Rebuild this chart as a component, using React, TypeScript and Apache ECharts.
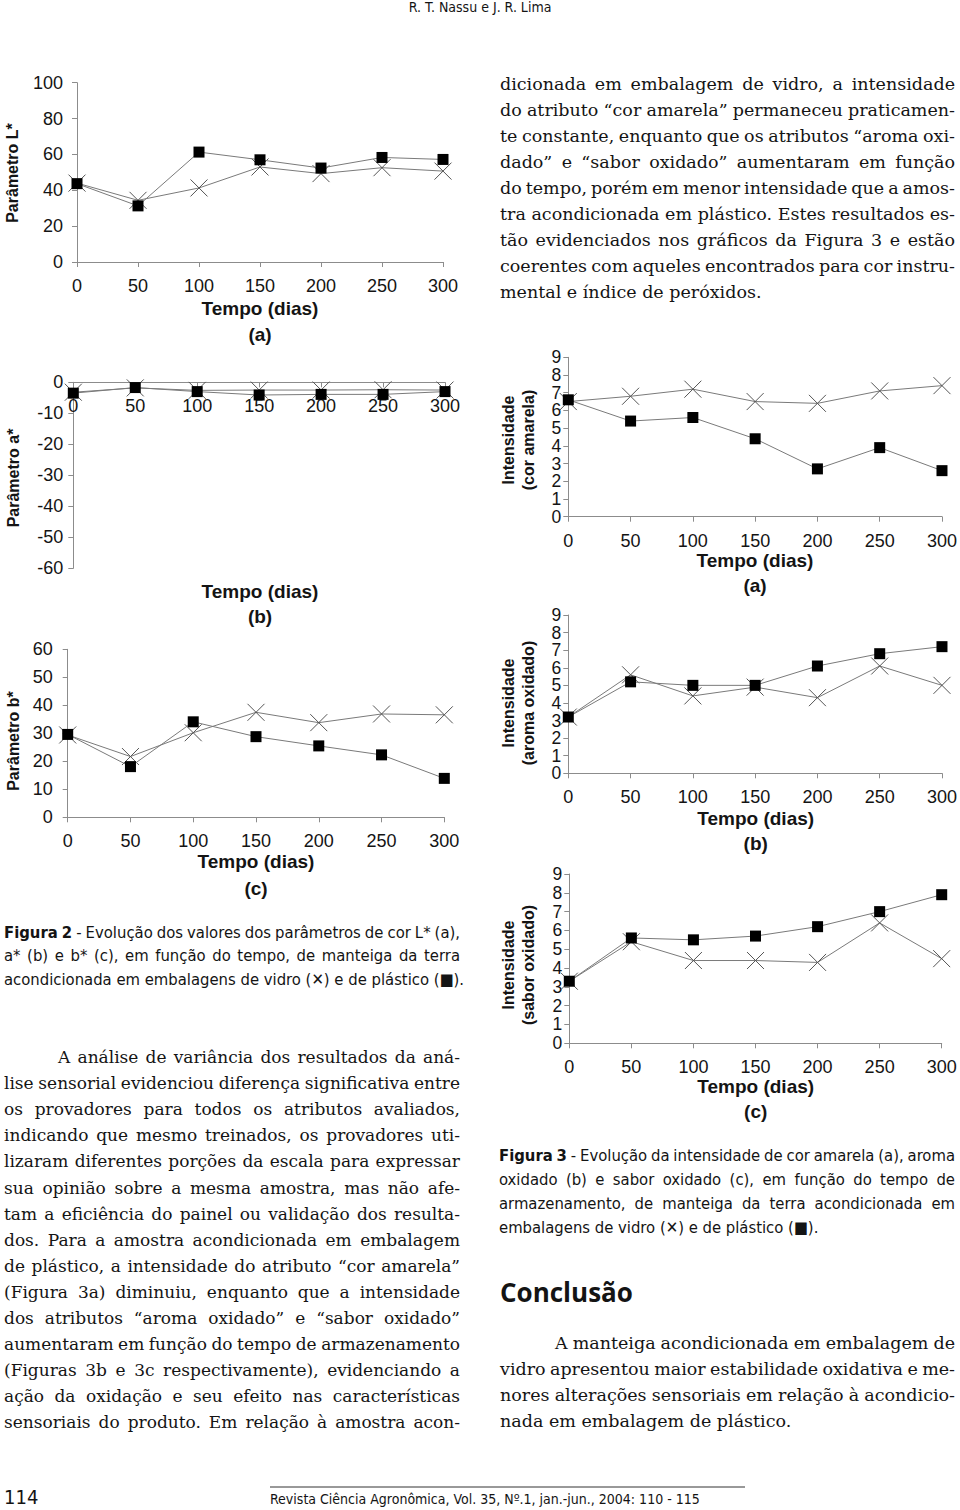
import React, { useEffect, useRef } from "react";
import * as echarts from "echarts";

// ---------- DATA ----------
const days = [0, 50, 100, 150, 200, 250, 300];
const xTicks = ["0", "50", "100", "150", "200", "250", "300"];

// Figura 2 (instrumental colour)
const lGlass = [44, 34.4, 41.3, 53, 49.3, 52.6, 50.7];
const lPlastic = [43.7, 31.3, 61.3, 57, 52.4, 58.3, 57.2];
const aGlass = [-3.2, -1.8, -2.6, -2.5, -2.5, -2.4, -2.5];
const aPlastic = [-3.5, -1.7, -3.0, -4.1, -3.9, -3.9, -3.0];
const bGlass = [29.4, 21.7, 30.2, 37.5, 33.8, 36.9, 36.6];
const bPlastic = [29.6, 18.1, 34.1, 28.8, 25.5, 22.3, 13.9];

// Figura 3 (sensory intensity)
const corGlass = [6.5, 6.8, 7.2, 6.5, 6.4, 7.1, 7.4];
const corPlastic = [6.6, 5.4, 5.6, 4.4, 2.7, 3.9, 2.6];
const aromaGlass = [3.2, 5.6, 4.4, 4.9, 4.3, 6.1, 5.0];
const aromaPlastic = [3.2, 5.2, 5.0, 5.0, 6.1, 6.8, 7.2];
const saborGlass = [3.3, 5.4, 4.4, 4.4, 4.3, 6.4, 4.5];
const saborPlastic = [3.3, 5.6, 5.5, 5.7, 6.2, 7.0, 7.9];

// ---------- TEXT ----------
const headerText = "R. T. Nassu e J. R. Lima";
const leftBody = [
  "A análise de variância dos resultados da aná-",
  "lise sensorial evidenciou diferença significativa entre",
  "os provadores para todos os atributos avaliados,",
  "indicando que mesmo treinados, os provadores uti-",
  "lizaram diferentes porções da escala para expressar",
  "sua opinião sobre a mesma amostra, mas não afe-",
  "tam a eficiência do painel ou validação dos resulta-",
  "dos. Para a amostra acondicionada em embalagem",
  "de plástico, a intensidade do atributo “cor amarela”",
  "(Figura 3a) diminuiu, enquanto que a intensidade",
  "dos atributos “aroma oxidado” e “sabor oxidado”",
  "aumentaram em função do tempo de armazenamento",
  "(Figuras 3b e 3c respectivamente), evidenciando a",
  "ação da oxidação e seu efeito nas características",
  "sensoriais do produto. Em relação à amostra acon-",
];
const rightBody = [
  "dicionada em embalagem de vidro, a intensidade",
  "do atributo “cor amarela” permaneceu praticamen-",
  "te constante, enquanto que os atributos “aroma oxi-",
  "dado” e “sabor oxidado” aumentaram em função",
  "do tempo, porém em menor intensidade que a amos-",
  "tra acondicionada em plástico. Estes resultados es-",
  "tão evidenciados nos gráficos da Figura 3 e estão",
  "coerentes com aqueles encontrados para cor instru-",
  "mental e índice de peróxidos.",
];
const fig2Caption = [
  "Figura 2 - Evolução dos valores dos parâmetros de cor L* (a),",
  "a* (b) e b* (c), em função do tempo, de manteiga da terra",
  "acondicionada em embalagens de vidro (✕) e de plástico (■).",
];
const fig3Caption = [
  "Figura 3 - Evolução da intensidade de cor amarela (a), aroma",
  "oxidado (b) e sabor oxidado (c), em função do tempo de",
  "armazenamento, de manteiga da terra acondicionada em",
  "embalagens de vidro (✕) e de plástico (■).",
];
const conclusionTitle = "Conclusão";
const conclusionBody = [
  "A manteiga acondicionada em embalagem de",
  "vidro apresentou maior estabilidade oxidativa e me-",
  "nores alterações sensoriais em relação à acondicio-",
  "nada em embalagem de plástico.",
];
const footerPage = "114";
const footerJournal = "Revista Ciência Agronômica, Vol. 35, Nº.1, jan.-jun., 2004: 110 - 115";

const SERIF = '"DejaVu Serif", "Liberation Serif", serif';
const NARROW = '"Liberation Sans Narrow", "DejaVu Sans Condensed", "Arial Narrow", sans-serif';
const SANS = '"Liberation Sans", Arial, Helvetica, sans-serif';
const TXT = "#141414";
const AXIS = "#8c8c8c";
const LINE = "#7a7a7a";

type ParaOpts = {
  lines: string[];
  x0: number;
  x1: number;
  y0: number;
  lh: number;
  indent?: number;
  justifyLast?: boolean;
  family: string;
  size: number;
  minSize?: number;
  boldWords?: number;
};

function paragraph(ctx: CanvasRenderingContext2D, o: ParaOpts) {
  const indent = o.indent || 0;
  const boldWords = o.boldWords || 0;
  const fnt = (s: number, b: boolean) => `${b ? "bold " : ""}${s}px ${o.family}`;
  const widthsOf = (ln: string, i: number, s: number) =>
    ln.split(" ").map((w, j) => {
      ctx.font = fnt(s, i === 0 && j < boldWords);
      return ctx.measureText(w).width;
    });
  const fits = (s: number) =>
    o.lines.every((ln, i) => {
      const start = o.x0 + (i === 0 ? indent : 0);
      const ws = widthsOf(ln, i, s);
      const tot = ws.reduce((a, b) => a + b, 0);
      return tot + (ws.length - 1) * 0.22 * s <= o.x1 - start;
    });
  let s = o.size;
  const minS = o.minSize || o.size * 0.7;
  while (s > minS && !fits(s)) s -= 0.25;
  const els: any[] = [];
  o.lines.forEach((ln, i) => {
    const y = o.y0 + i * o.lh;
    const start = o.x0 + (i === 0 ? indent : 0);
    const words = ln.split(" ");
    const ws = widthsOf(ln, i, s);
    const tot = ws.reduce((a, b) => a + b, 0);
    const justify = i < o.lines.length - 1 || o.justifyLast;
    ctx.font = fnt(s, false);
    const sp = ctx.measureText(" ").width;
    const gap = justify && words.length > 1 ? (o.x1 - start - tot) / (words.length - 1) : sp;
    let x = start;
    words.forEach((w, j) => {
      const b = i === 0 && j < boldWords;
      els.push({
        type: "text",
        x,
        y,
        silent: true,
        style: {
          text: w,
          fontSize: s,
          fontFamily: o.family,
          fontWeight: b ? "bold" : "normal",
          fill: TXT,
          align: "left",
          verticalAlign: "middle",
        },
      });
      x += ws[j] + gap;
    });
  });
  return els;
}

const txt = (x: number, y: number, text: string, extra: any = {}) => ({
  type: "text",
  x,
  y,
  silent: true,
  ...(extra.rotation !== undefined ? { rotation: extra.rotation } : {}),
  style: {
    text,
    fontSize: extra.fontSize || 19,
    fontFamily: extra.fontFamily || SANS,
    fontWeight: extra.fontWeight || "bold",
    fill: TXT,
    align: extra.align || "center",
    verticalAlign: "middle",
    lineHeight: extra.lineHeight || undefined,
  },
});

export default function App() {
  const ref = useRef<HTMLDivElement>(null);
  useEffect(() => {
    if (!ref.current) return;
    const chart = echarts.init(ref.current, undefined, { renderer: "svg" });
    const ctx = document.createElement("canvas").getContext("2d") as CanvasRenderingContext2D;

    const grids = [
      { left: 77, top: 82.7, width: 366, height: 179.3 },
      { left: 73.3, top: 382.3, width: 371.7, height: 186 },
      { left: 67.7, top: 649.3, width: 376.6, height: 168 },
      { left: 568.3, top: 357.3, width: 375, height: 159.4 },
      { left: 568.3, top: 615, width: 375, height: 158.3 },
      { left: 569.3, top: 874, width: 372.4, height: 169.3 },
    ];
    const yRanges = [
      { min: 0, max: 100, interval: 20, margin: 14, fs: 18 },
      { min: -60, max: 0, interval: 10, margin: 10, fs: 18 },
      { min: 0, max: 60, interval: 10, margin: 15, fs: 18 },
      { min: 0, max: 9, interval: 1, margin: 7, fs: 17.5 },
      { min: 0, max: 9, interval: 1, margin: 7, fs: 17.5 },
      { min: 0, max: 9, interval: 1, margin: 7, fs: 17.5 },
    ];
    const pairs = [
      [lGlass, lPlastic],
      [aGlass, aPlastic],
      [bGlass, bPlastic],
      [corGlass, corPlastic],
      [aromaGlass, aromaPlastic],
      [saborGlass, saborPlastic],
    ];
    const axisTick = { show: true, length: 5, lineStyle: { color: AXIS, width: 1 } };

    const xAxis = grids.map((g, i) => ({
      type: "value",
      gridIndex: i,
      position: "bottom",
      offset: i === 1 ? -g.height : 0,
      min: 0,
      max: 300,
      interval: 50,
      axisLine: { show: true, onZero: false, lineStyle: { color: AXIS, width: 1 } },
      axisTick,
      splitLine: { show: false },
      axisLabel: {
        color: TXT,
        fontSize: 18,
        fontFamily: SANS,
        margin: 15,
        showMinLabel: true,
        showMaxLabel: true,
        formatter: (v: number) => xTicks[days.indexOf(v)] ?? String(v),
      },
    }));
    // Dense 0..9 scales: even labels on the main axis, odd labels on a twin axis,
    // so that ECharts' min/max overlap check never hides a label.
    const dense = (i: number) => i >= 3;
    const yAxis: any[] = grids.map((_, i) => ({
      type: "value",
      gridIndex: i,
      min: yRanges[i].min,
      max: yRanges[i].max,
      interval: yRanges[i].interval,
      axisLine: { show: true, onZero: false, lineStyle: { color: AXIS, width: 1 } },
      axisTick,
      splitLine: { show: false },
      axisLabel: {
        color: TXT,
        fontSize: yRanges[i].fs,
        fontFamily: SANS,
        margin: yRanges[i].margin,
        showMinLabel: true,
        showMaxLabel: true,
        formatter: (v: number) => (dense(i) && Math.round(v) % 2 !== 0 ? "" : String(v)),
      },
    }));
    grids.forEach((_, i) => {
      if (!dense(i)) return;
      yAxis.push({
        type: "value",
        gridIndex: i,
        position: "left",
        offset: 0,
        min: yRanges[i].min,
        max: yRanges[i].max,
        interval: yRanges[i].interval,
        axisLine: { show: false, onZero: false },
        axisTick: { show: false },
        splitLine: { show: false },
        axisLabel: {
          color: TXT,
          fontSize: yRanges[i].fs,
          fontFamily: SANS,
          margin: yRanges[i].margin,
          showMinLabel: true,
          showMaxLabel: true,
          formatter: (v: number) => (Math.round(v) % 2 !== 0 ? String(v) : ""),
        },
      });
    });
    const series: any[] = [];
    pairs.forEach(([glass, plastic], i) => {
      series.push({
        type: "line",
        xAxisIndex: i,
        yAxisIndex: i,
        data: days.map((d, k) => [d, glass[k]]),
        symbol: "path://M0,0L10,10M10,0L0,10",
        symbolSize: 17,
        lineStyle: { color: LINE, width: 1 },
        itemStyle: { color: "#555", borderColor: "#555", borderWidth: 1 },
        z: 2,
      });
      series.push({
        type: "line",
        xAxisIndex: i,
        yAxisIndex: i,
        data: days.map((d, k) => [d, plastic[k]]),
        symbol: "rect",
        symbolSize: 11,
        lineStyle: { color: LINE, width: 1 },
        itemStyle: { color: "#000" },
        z: 3,
      });
    });

    const R = Math.PI / 2;
    const elements: any[] = [
      txt(480, 7, headerText, { fontSize: 14, fontFamily: NARROW, fontWeight: "normal" }),
      // axis titles, figure 2
      txt(260, 308, "Tempo (dias)"),
      txt(260, 334, "(a)"),
      txt(12, 173, "Parâmetro L*", { rotation: R, fontSize: 16 }),
      txt(260, 591.7, "Tempo (dias)"),
      txt(260, 616.7, "(b)"),
      txt(13, 478, "Parâmetro a*", { rotation: R, fontSize: 16 }),
      txt(256, 861.7, "Tempo (dias)"),
      txt(256, 888, "(c)"),
      txt(13, 741, "Parâmetro b*", { rotation: R, fontSize: 16 }),
      // figure 3
      txt(755, 560, "Tempo (dias)"),
      txt(755, 585, "(a)"),
      txt(518, 440, "Intensidade\n(cor amarela)", { rotation: R, fontSize: 16, lineHeight: 20 }),
      txt(755.7, 818.3, "Tempo (dias)"),
      txt(755.7, 843.3, "(b)"),
      txt(518, 703, "Intensidade\n(aroma oxidado)", { rotation: R, fontSize: 16, lineHeight: 20 }),
      txt(755.7, 1086.7, "Tempo (dias)"),
      txt(755.7, 1111.7, "(c)"),
      txt(518, 965, "Intensidade\n(sabor oxidado)", { rotation: R, fontSize: 16, lineHeight: 20 }),
      // headings / footer
      txt(500, 1292, conclusionTitle, { align: "left", fontSize: 26, fontFamily: '"Open Sans", "Lato", sans-serif' }),
      txt(4, 1497, footerPage, { align: "left", fontSize: 20, fontFamily: NARROW, fontWeight: "normal" }),
      txt(270, 1499, footerJournal, { align: "left", fontSize: 14, fontFamily: NARROW, fontWeight: "normal" }),
      {
        type: "line",
        silent: true,
        shape: { x1: 270, y1: 1487, x2: 745, y2: 1487 },
        style: { stroke: "#333", lineWidth: 1 },
      },
      ...paragraph(ctx, { lines: rightBody, x0: 500, x1: 955, y0: 84, lh: 26, family: SERIF, size: 18.5 }),
      ...paragraph(ctx, { lines: leftBody, x0: 4, x1: 460, y0: 1057, lh: 26.1, indent: 54, justifyLast: true, family: SERIF, size: 18.5 }),
      ...paragraph(ctx, { lines: conclusionBody, x0: 500, x1: 955, y0: 1343, lh: 26, indent: 55, family: SERIF, size: 18.5 }),
      ...paragraph(ctx, { lines: fig2Caption, x0: 4, x1: 460, y0: 932, lh: 23.5, family: NARROW, size: 17, boldWords: 2 }),
      ...paragraph(ctx, { lines: fig3Caption, x0: 499, x1: 955, y0: 1155, lh: 24, family: NARROW, size: 17, boldWords: 2 }),
    ];

    chart.setOption({
      animation: false,
      backgroundColor: "#ffffff",
      grid: grids.map((g) => ({ ...g, containLabel: false })),
      xAxis,
      yAxis,
      series,
      graphic: { elements },
    });
    return () => chart.dispose();
  }, []);
  return (
    <div
      ref={ref}
      style={{ position: "absolute", left: 0, top: 0, width: 960, height: 1510, background: "#fff" }}
    />
  );
}
